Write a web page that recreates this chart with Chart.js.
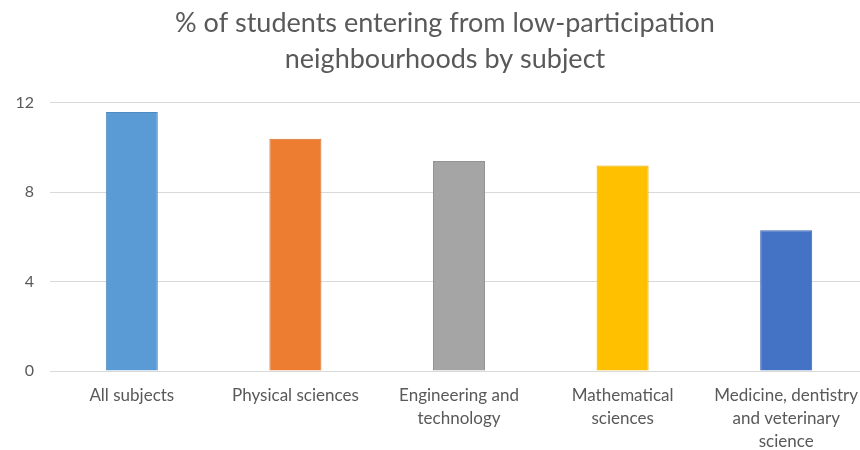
<!DOCTYPE html>
<html>
<head>
<meta charset="utf-8">
<script src="https://cdn.jsdelivr.net/npm/chart.js@4.4.1/dist/chart.umd.min.js"></script>
<style>
  html, body { margin: 0; padding: 0; background: #fff; overflow: hidden; }
  #wrap { width: 868px; height: 450px; }
</style>
</head>
<body>
<div id="wrap"><canvas id="chart"></canvas></div>
<script>
// values
const categories = [
  ['All subjects'],
  ['Physical sciences'],
  ['Engineering and', 'technology'],
  ['Mathematical', 'sciences'],
  ['Medicine, dentistry', 'and veterinary', 'science']
];
const percentValues = [11.6, 10.4, 9.4, 9.2, 6.3];
const yTicks = [0, 4, 8, 12];

const barColors = ['#5B9BD5', '#ED7D31', '#A5A5A5', '#FFC000', '#4472C4'];
const barEdges = ['#4F8AC0', '#D46E2A', '#939393', '#E5AC00', '#3B65B0'];

const FONT = 'Lato, "Open Sans", sans-serif';
const TEXT = '#595959';
const GRID = '#D9D9D9';

// the original title sits a bit right of the canvas centre
const shiftTitle = {
  id: 'shiftTitle',
  afterLayout(chart) {
    const t = chart.titleBlock;
    if (t) { t.left += 11; t.right += 11; }
  }
};

const ctx = document.getElementById('chart').getContext('2d');
new Chart(ctx, {
  type: 'bar',
  data: {
    labels: categories,
    datasets: [{
      data: percentValues,
      backgroundColor: barColors,
      borderColor: barEdges,
      borderWidth: 1,
      barPercentage: 0.318,
      categoryPercentage: 1
    }]
  },
  options: {
    responsive: true,
    maintainAspectRatio: false,
    animation: false,
    layout: { padding: 0 },
    plugins: {
      legend: { display: false },
      tooltip: { enabled: false },
      title: {
        display: true,
        text: ['% of students entering from low-participation', 'neighbourhoods by subject'],
        color: TEXT,
        font: { family: FONT, size: 27, weight: 'normal', lineHeight: 1.333 },
        padding: { top: 5, bottom: 26 }
      }
    },
    scales: {
      x: {
        grid: { display: false },
        border: { display: true, color: GRID, width: 1 },
        ticks: {
          color: TEXT,
          font: { family: FONT, size: 17, lineHeight: 1.35 },
          maxRotation: 0,
          autoSkip: false,
          padding: 5
        },
        afterFit: (scale) => { scale.height = 79; }
      },
      y: {
        min: 0,
        max: 12,
        afterBuildTicks: (scale) => { scale.ticks = yTicks.map(v => ({ value: v })); },
        grid: { color: GRID, lineWidth: 1, drawTicks: false },
        border: { display: false },
        ticks: {
          color: TEXT,
          font: { family: FONT, size: 16 },
          padding: 16
        },
        afterFit: (scale) => { scale.width = 50; }
      }
    }
  },
  plugins: [shiftTitle]
});
</script>
</body>
</html>
